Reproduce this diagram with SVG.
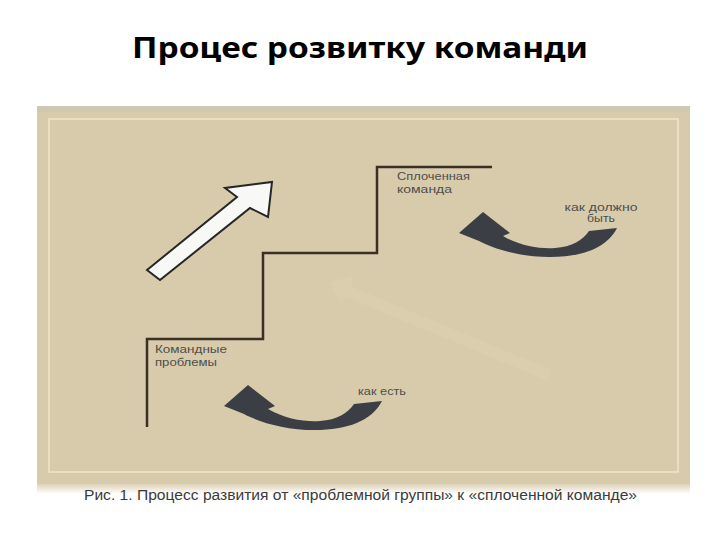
<svg xmlns="http://www.w3.org/2000/svg" width="720" height="540" viewBox="0 0 720 540">
  <style>
    .title { font-family: "Noto Sans", "Open Sans", sans-serif; font-weight: bold; font-size: 28px; fill: #000; }
    .lbl { font-family: "Liberation Sans", "DejaVu Sans", sans-serif; font-size: 10.5px; fill: #4e4e4e; }
    .cap { font-family: "Liberation Sans", "DejaVu Sans", sans-serif; font-size: 14px; fill: #3a3a3a; }
    .stair { fill: none; stroke: #3a2f24; stroke-width: 2.5; stroke-linejoin: miter; }
    .dark { fill: #3c3e46; }
  </style>
  <defs>
    <linearGradient id="fade" x1="0" y1="0" x2="0" y2="1">
      <stop offset="0" stop-color="#ded3b9"/>
      <stop offset="1" stop-color="#ffffff"/>
    </linearGradient>
    <path id="curl" d="M 589,231 L 617,228 C 607,248 582,257 550,257 C 520,257 494,249 479,241 L 459,233 L 483,212 L 510,233 L 503,236 C 520,246 540,249 555,248 C 572,247 583,240 589,231 Z"/>
  </defs>

  <rect width="720" height="540" fill="#ffffff"/>

  <g id="title">
    <text class="title" x="360" y="58" text-anchor="middle" textLength="456" lengthAdjust="spacingAndGlyphs">Процес розвитку команди</text>
  </g>

  <g id="panel">
    <rect x="37" y="484" width="653" height="10" fill="url(#fade)"/>
    <rect x="37" y="106" width="653" height="378" fill="#d8cbab"/>
    <rect x="37" y="106" width="653" height="6" fill="#cfc9b2"/>
    <rect x="49" y="119" width="629" height="353" fill="none" stroke="#f2e6c8" stroke-width="1.5"/>
    <polygon points="330,282 352,276 352,287 552,370 546,380 346,297 340,304" fill="#e6dcc2" opacity="0.18"/>
  </g>

  <g id="connectors">
    <polyline class="stair" points="147,427 147,339 263,339 263,253 377,253 377,167 492,167"/>
  </g>

  <g id="white-arrow">
    <polygon points="147,270 237,197 225,188 272,182 268,217 250,208 160,280" fill="#f8f8f6" stroke="#262626" stroke-width="2" stroke-linejoin="miter"/>
  </g>

  <g id="arrow-should">
    <use href="#curl" class="dark"/>
  </g>
  <g id="arrow-is">
    <use href="#curl" class="dark" transform="translate(-235,173)"/>
  </g>

  <g id="node-cohesive">
    <text class="lbl" x="397" y="180" textLength="73" lengthAdjust="spacingAndGlyphs">Сплоченная</text>
    <text class="lbl" x="397" y="193" textLength="55" lengthAdjust="spacingAndGlyphs">команда</text>
  </g>
  <g id="node-problem">
    <text class="lbl" x="155" y="353" textLength="72" lengthAdjust="spacingAndGlyphs">Командные</text>
    <text class="lbl" x="155" y="366" textLength="62" lengthAdjust="spacingAndGlyphs">проблемы</text>
  </g>
  <g id="label-should">
    <text class="lbl" x="601" y="211" text-anchor="middle" textLength="73" lengthAdjust="spacingAndGlyphs">как должно</text>
    <text class="lbl" x="601" y="222" text-anchor="middle" textLength="28" lengthAdjust="spacingAndGlyphs">быть</text>
  </g>
  <g id="label-is">
    <text class="lbl" x="358" y="395" textLength="48" lengthAdjust="spacingAndGlyphs">как есть</text>
  </g>

  <g id="caption">
    <text class="cap" x="84" y="500" textLength="553" lengthAdjust="spacingAndGlyphs">Рис. 1. Процесс развития от «проблемной группы» к «сплоченной команде»</text>
  </g>
</svg>
